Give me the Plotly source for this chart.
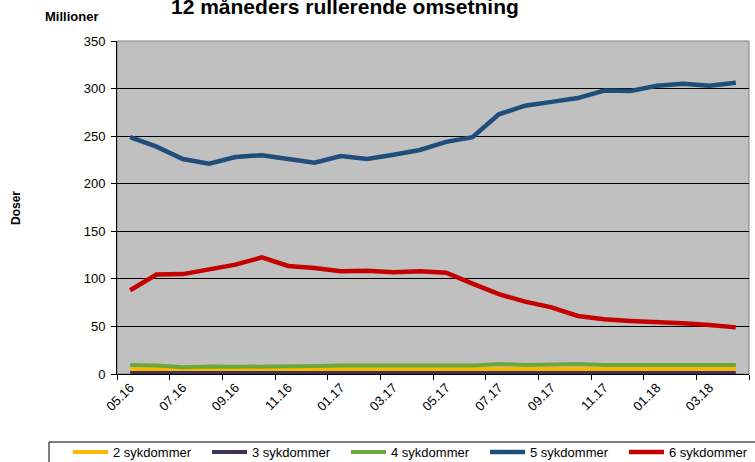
import plotly.graph_objects as go

months = ["05.16", "06.16", "07.16", "08.16", "09.16", "10.16", "11.16", "12.16",
          "01.17", "02.17", "03.17", "04.17", "05.17", "06.17", "07.17", "08.17",
          "09.17", "10.17", "11.17", "12.17", "01.18", "02.18", "03.18", "04.18"]

sykd2 = [5, 5, 4.5, 4.5, 4.5, 4.5, 5, 5, 5, 5, 5, 5, 5, 5, 5.5, 5.5, 5.5, 5.5, 5.5, 5.5, 5.5, 5.5, 5.5, 5.5]
sykd3 = [1, 1, 1, 1, 1, 1, 1, 1, 1, 1, 1, 1, 1, 1, 1, 1, 1, 1, 1, 1, 1, 1, 1, 1]
sykd4 = [9.5, 9, 7, 8, 7.5, 7.5, 8.5, 8.5, 9, 9, 9, 9, 8.5, 9, 10.5, 9.5, 10, 10.5, 9.5, 9.5, 9, 9.5, 9.5, 9.5]
sykd5 = [249, 239, 226, 221, 228, 230, 226, 222, 229, 226, 230.5, 235.5, 244, 249, 273, 282, 286, 290, 298, 297.5, 303, 305, 303, 306]
sykd6 = [88, 104.5, 105, 110, 115, 122.5, 113.5, 111.5, 108, 108.5, 107, 108, 106.5, 95, 84, 76, 70, 61, 57.5, 55.7, 54.7, 53.3, 51.5, 49]

series_names = ["2 sykdommer", "3 sykdommer", "4 sykdommer", "5 sykdommer", "6 sykdommer"]
series_vals = [sykd2, sykd3, sykd4, sykd5, sykd6]
series_colors = ["#FFB800", "#3F3151", "#6FA83A", "#1F4E7A", "#C40000"]
series_widths = [4, 4, 4, 4.5, 4.5]

y_ticks = [0, 50, 100, 150, 200, 250, 300, 350]

FONT = "Liberation Sans, Arial, sans-serif"

fig = go.Figure()
for name, vals, col, w in zip(series_names, series_vals, series_colors, series_widths):
    fig.add_trace(go.Scatter(x=months, y=vals, name=name, mode="lines",
                             line=dict(color=col, width=w)))

L, R, T, B = 117, 6, 41, 88
W, H = 755, 462
pw, ph = W - L - R, H - T - B

def px(xpix):
    return (xpix - L) / pw

def py(ypix):
    return (H - B - ypix) / ph

fig.update_layout(
    width=W, height=H,
    margin=dict(l=L, r=R, t=T, b=B, autoexpand=False),
    paper_bgcolor="white",
    plot_bgcolor="#C0C0C0",
    font=dict(family=FONT, size=13, color="black"),
    showlegend=True,
    legend=dict(orientation="h", x=px(68), xanchor="left", y=py(437), yanchor="top",
                borderwidth=0, bgcolor="rgba(0,0,0,0)",
                font=dict(size=13, family=FONT), entrywidth=89, entrywidthmode="pixels",
                itemwidth=35, traceorder="normal"),
    xaxis=dict(type="category", tickangle=-45, dtick=2, tickson="boundaries",
               ticks="outside", ticklen=5, tickcolor="black", showline=True,
               linecolor="black", linewidth=1, showgrid=False,
               range=[-0.5, len(months) - 0.5], tickfont=dict(size=13)),
    yaxis=dict(range=[0, 350], tickvals=y_ticks, ticks="outside", ticklen=5,
               tickcolor="black", showline=True, linecolor="black", linewidth=1,
               showgrid=True, gridcolor="black", gridwidth=1, zeroline=False,
               tickfont=dict(size=13), ticklabelstandoff=3),
    shapes=[
        dict(type="rect", xref="paper", yref="paper", x0=0, x1=1, y0=0, y1=1,
             line=dict(color="#808080", width=1), layer="below"),
        dict(type="rect", xref="paper", yref="paper", x0=px(49), x1=px(775),
             y0=py(442), y1=py(480), line=dict(color="black", width=1),
             fillcolor="white", layer="below"),
    ],
    annotations=[
        dict(text="<b>12 måneders rullerende omsetning</b>", xref="paper", yref="paper",
             x=px(345), y=py(6), xanchor="center", yanchor="middle", showarrow=False,
             font=dict(size=21, family=FONT)),
        dict(text="<b>Millioner</b>", xref="paper", yref="paper",
             x=px(71.5), y=py(16.5), xanchor="center", yanchor="middle", showarrow=False,
             font=dict(size=13, family=FONT)),
        dict(text="<b>Doser</b>", xref="paper", yref="paper", textangle=-90,
             x=px(16), y=py(208), xanchor="center", yanchor="middle", showarrow=False,
             font=dict(size=12, family=FONT)),
    ],
)

fig.write_html("out.html", config={"displayModeBar": False},
               post_script="document.body.style.margin='0';document.body.style.padding='0';")
